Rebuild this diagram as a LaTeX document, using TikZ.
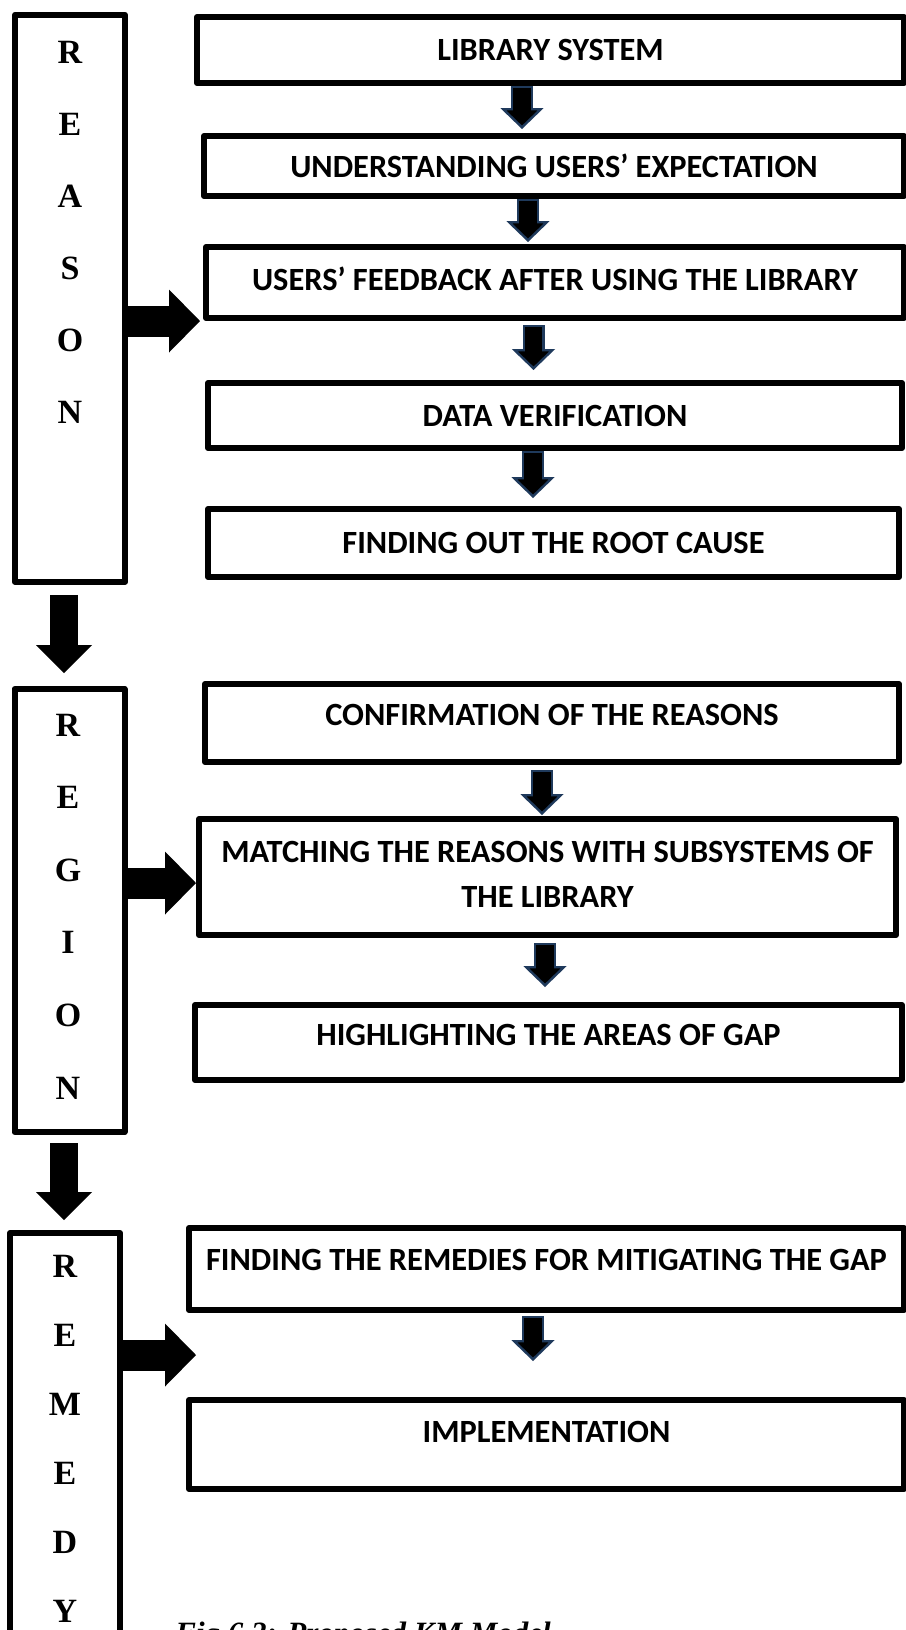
\documentclass[tikz,border=0pt]{standalone}
\usepackage{fontspec}
\setmainfont{Liberation Serif}
\newfontfamily\calibri{Carlito}
\usepackage{tikz}
\usetikzlibrary{arrows.meta, positioning, calc}
\definecolor{arrowedge}{HTML}{1F3A5C}

\begin{document}
\begin{tikzpicture}[
        x=0.5pt, y=-0.5pt,
        stage/.style={draw, rectangle, line width=3pt, line join=round, align=center, inner sep=2pt,
            font=\calibri\bfseries\fontsize{16.2}{22.5}\selectfont},
        side/.style={draw, rectangle, line width=3pt, line join=round, minimum width=55pt},
        letter/.style={font=\bfseries\fontsize{17}{20}\selectfont},
        caption/.style={inner sep=0pt, font=\bfseries\itshape\fontsize{15.5}{20}\selectfont},
        flow/.style={draw=arrowedge, line width=11pt,
            -{Triangle[length=10.5pt, width=21.5pt, fill=black, line width=1.2pt]},
            postaction={draw=black, line width=8.6pt, -, shorten <=1.2pt, shorten >=9pt}},
        bigdown/.style={draw=black, line width=14pt, -{Triangle[length=14pt, width=28pt, line width=0pt]}},
        bigright/.style={draw=black, line width=15.5pt, -{Triangle[length=15.5pt, width=31.5pt, line width=0pt]}}
    ]
        \path[use as bounding box, fill=white] (0,0) rectangle (906,1630);
        \clip (0,0) rectangle (906,1630);

        % Reason stage
        \node[side, minimum height=283.5pt] (reason) at (70,298.4) {};
        \foreach \ch [count=\i from 0] in {R,E,A,S,O,N}
            \node[letter] (reason-\i) at (70,{52+72*\i}) {\ch};

        \node[stage, minimum width=353.5pt, minimum height=33pt] (lib) at (550.5,50) {LIBRARY SYSTEM};
        \node[stage, minimum width=350pt, minimum height=30pt] (users) at (554,166) {UNDERSTANDING USERS’ EXPECTATION};
        \node[stage, minimum width=349pt, minimum height=35.5pt, text depth=3.5pt] (feedback) at (555,282.5) {USERS’ FEEDBACK AFTER USING THE LIBRARY};
        \node[stage, minimum width=347pt, minimum height=32.5pt] (verify) at (555,415.5) {DATA VERIFICATION};
        \node[stage, minimum width=345.5pt, minimum height=34pt] (rootcause) at (553.5,543) {FINDING OUT THE ROOT CAUSE};

        \draw[flow] ([xshift=-14.25pt]lib.south) -- ([xshift=-16pt, yshift=2pt]users.north);
        \draw[flow] ([xshift=-13pt]users.south) -- ([xshift=-13.5pt, yshift=1pt]feedback.north);
        \draw[flow] ([xshift=-10.75pt, yshift=-2pt]feedback.south) -- ([xshift=-10.75pt, yshift=5pt]verify.north);
        \draw[flow] ([xshift=-11pt]verify.south) -- ([xshift=-10.25pt, yshift=4pt]rootcause.north);
        \draw[bigright] (reason.east |- feedback.south west) -- ([xshift=-1.5pt]feedback.south west);

        % Region stage
        \node[side, minimum height=221.5pt] (region) at (69.5,910.5) {};
        \foreach \ch [count=\i from 0] in {R,E,G,I,O,N}
            \node[letter] (region-\i) at (68,{725+72.6*\i}) {\ch};

        \node[stage, minimum width=347pt, minimum height=39pt, text depth=8pt] (confirm) at (552,723) {CONFIRMATION OF THE REASONS};
        \node[stage, minimum width=348.5pt, minimum height=58pt, text depth=2.5pt] (match) at (547.5,877) {MATCHING THE REASONS WITH SUBSYSTEMS OF\\THE LIBRARY};
        \node[stage, minimum width=353.5pt, minimum height=37.5pt, text depth=7.5pt] (gap) at (548.5,1042.5) {HIGHLIGHTING THE AREAS OF GAP};

        \draw[flow] ([xshift=-5pt, yshift=-2.5pt]confirm.south) -- ([xshift=-2.75pt, yshift=0.5pt]match.north);
        \draw[flow] ([xshift=-1.25pt, yshift=-2.5pt]match.south) -- ([xshift=-1.75pt, yshift=7.5pt]gap.north);
        \coordinate (mtip) at ([yshift=-3pt]match.west);
        \draw[bigright] (region.east |- mtip) -- (mtip);

        \draw[bigdown] ([xshift=-3pt, yshift=-5pt]reason.south) -- ([xshift=-2.75pt, yshift=6.5pt]region.north);

        % Remedy stage
        \node[side, minimum height=233.5pt] (remedy) at (65,1466.5) {};
        \foreach \ch [count=\i from 0] in {R,E,M,E,D,Y}
            \node[letter] (remedy-\i) at (65,{1266+69*\i}) {\ch};

        \node[stage, minimum width=357.5pt, minimum height=41pt, text depth=9pt] (remedies) at (546.5,1269) {FINDING THE REMEDIES FOR MITIGATING THE GAP};
        \node[stage, minimum width=357.5pt, minimum height=44.5pt, text depth=12.5pt] (impl) at (546.5,1444.5) {IMPLEMENTATION};

        \draw[flow] ([xshift=-6.75pt, yshift=-1.5pt]remedies.south) -- ([xshift=-6.75pt, yshift=18pt]impl.north);
        \coordinate (rtip) at ($(remedies.south west)!0.5!(impl.north west)+(10,0)$);
        \draw[bigright] (remedy.east |- rtip) -- (rtip);

        \draw[bigdown] ([xshift=-2.75pt, yshift=-4pt]region.south) -- ([xshift=-0.5pt, yshift=5pt]remedy.north);

        \node[caption, anchor=base west] (figcap) at (175,1643) {Fig 6.2: Proposed KM Model};
    \end{tikzpicture}
\end{document}
